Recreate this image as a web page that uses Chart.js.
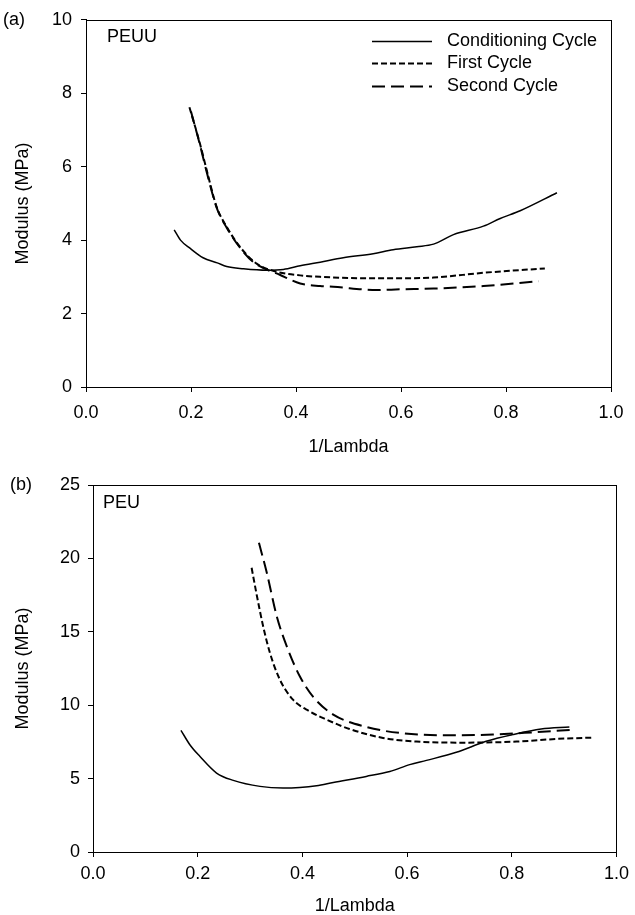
<!DOCTYPE html>
<html><head><meta charset="utf-8">
<script src="https://cdn.jsdelivr.net/npm/chart.js@4.4.1/dist/chart.umd.min.js"></script>
<style>
html,body{margin:0;padding:0;background:#fff;width:635px;height:915px;overflow:hidden}
canvas{position:absolute;left:0}
#c1{top:0}
#c2{top:462px}
</style></head><body>
<canvas id="c1" width="635" height="462"></canvas>
<canvas id="c2" width="635" height="453"></canvas>
<script>
// ---- data ----
const seriesNames = ["Conditioning Cycle", "First Cycle", "Second Cycle"];
const xTickValues = [0.0, 0.2, 0.4, 0.6, 0.8, 1.0];

// (a) PEUU
const condX_a = [0.168,0.180,0.198,0.223,0.250,0.268,0.300,0.344,0.376,0.408,0.446,0.490,0.547,0.585,0.630,0.662,0.700,0.757,0.789,0.827,0.897];
const condY_a = [4.28,4.00,3.78,3.52,3.38,3.28,3.22,3.18,3.20,3.30,3.40,3.52,3.63,3.74,3.82,3.89,4.15,4.38,4.59,4.80,5.29];
const firstX_a = [0.197,0.217,0.230,0.249,0.268,0.293,0.325,0.363,0.408,0.446,0.535,0.598,0.662,0.757,0.874];
const firstY_a = [7.62,6.63,5.90,4.90,4.36,3.82,3.36,3.14,3.04,3.00,2.96,2.96,2.98,3.11,3.23];
const secondX_a = [0.200,0.217,0.230,0.249,0.268,0.293,0.319,0.370,0.408,0.446,0.471,0.554,0.598,0.662,0.757,0.862];
const secondY_a = [7.50,6.60,5.85,4.88,4.34,3.80,3.40,3.05,2.82,2.75,2.73,2.64,2.66,2.68,2.75,2.88];
const yTicks_a = [0, 2, 4, 6, 8, 10];

// (b) PEU
const condX_b = [0.168,0.185,0.204,0.236,0.268,0.319,0.363,0.395,0.427,0.459,0.522,0.567,0.605,0.637,0.694,0.751,0.802,0.856,0.910];
const condY_b = [8.29,7.31,6.52,5.38,4.88,4.47,4.36,4.40,4.52,4.74,5.15,5.49,5.95,6.24,6.79,7.54,8.00,8.38,8.52];
const firstX_b = [0.303,0.312,0.325,0.338,0.357,0.382,0.414,0.446,0.490,0.554,0.618,0.713,0.809,0.885,0.952];
const firstY_b = [19.36,17.65,15.38,13.56,11.74,10.38,9.58,9.02,8.38,7.77,7.52,7.45,7.52,7.70,7.79];
const secondX_b = [0.317,0.332,0.351,0.370,0.395,0.421,0.459,0.522,0.586,0.681,0.764,0.840,0.920];
const secondY_b = [21.06,19.02,16.06,14.02,11.97,10.55,9.36,8.52,8.11,7.95,8.00,8.15,8.34];
const yTicks_b = [0, 5, 10, 15, 20, 25];

// ---- styling ----
const FONT = "'Liberation Sans', Arial, sans-serif";
Chart.defaults.color = '#000';
Chart.defaults.font.family = FONT;
Chart.defaults.font.size = 18;

const styles = [
  {borderDash: [], borderWidth: 1.5},
  {borderDash: [6, 3], borderWidth: 2},
  {borderDash: [13, 6], borderWidth: 2}
];

function pts(xs, ys) { return xs.map((x, i) => ({x: x, y: ys[i]})); }

function makeDatasets(sets) {
  return sets.map((s, i) => ({
    label: seriesNames[i],
    data: pts(s[0], s[1]),
    borderColor: '#000',
    backgroundColor: '#000',
    borderWidth: styles[i].borderWidth,
    borderDash: styles[i].borderDash,
    pointRadius: 0,
    fill: false,
    cubicInterpolationMode: 'monotone',
    showLine: true
  }));
}

const framePlugin = {
  id: 'frame',
  afterDraw(chart) {
    const {ctx, chartArea: a} = chart;
    ctx.save();
    ctx.strokeStyle = '#000';
    ctx.lineWidth = 1;
    ctx.strokeRect(Math.round(a.left) + 0.5, Math.round(a.top) + 0.5, Math.round(a.right - a.left), Math.round(a.bottom - a.top));
    ctx.restore();
  }
};

const labelsPlugin = {
  id: 'labels',
  afterDraw(chart, args, opts) {
    const {ctx} = chart;
    ctx.save();
    ctx.fillStyle = '#000';
    ctx.font = '18px ' + FONT;
    ctx.textBaseline = 'middle';
    ctx.textAlign = 'left';
    (opts.items || []).forEach(it => ctx.fillText(it.text, it.x, it.y));
    if (opts.legend) {
      const a = chart.chartArea;
      const x0 = a.right - 239, len = 60, tx = a.right - 164;
      chart.data.datasets.forEach((ds, i) => {
        const y = a.top + 21 + i * 22.5;
        ctx.beginPath();
        ctx.setLineDash(ds.borderDash);
        ctx.lineWidth = ds.borderWidth;
        ctx.strokeStyle = '#000';
        ctx.moveTo(x0, Math.round(y) + 0.5);
        ctx.lineTo(x0 + len, Math.round(y) + 0.5);
        ctx.stroke();
        ctx.setLineDash([]);
        ctx.fillText(ds.label, tx, y);
      });
    }
    ctx.restore();
  }
};

function axisCommon() {
  return {
    grid: {display: true, drawOnChartArea: false, drawTicks: true, tickLength: 5, tickColor: '#000', color: '#000', lineWidth: 1},
    border: {display: true, color: '#000', width: 1}
  };
}

function makeChart(id, sets, yTicks, cfg) {
  const yMax = yTicks[yTicks.length - 1];
  const yStep = yTicks[1] - yTicks[0];
  return new Chart(document.getElementById(id), {
    type: 'line',
    data: {datasets: makeDatasets(sets)},
    options: {
      responsive: false,
      animation: false,
      events: [],
      layout: {padding: {top: cfg.padTop, right: cfg.padRight, left: 0, bottom: 0}},
      plugins: {
        legend: {display: false},
        tooltip: {enabled: false},
        labels: {items: cfg.items, legend: cfg.legend}
      },
      scales: {
        x: Object.assign(axisCommon(), {
          type: 'linear', position: 'bottom',
          min: xTickValues[0], max: xTickValues[xTickValues.length - 1],
          afterBuildTicks: s => { s.ticks = xTickValues.map(v => ({value: v})); },
          ticks: {padding: cfg.xTickPad, maxRotation: 0, autoSkip: false, font: {size: 18}, callback: v => Number(v).toFixed(1)},
          title: {display: true, text: '1/Lambda', font: {size: 18, lineHeight: 1}, padding: {top: 0, bottom: cfg.xTitlePad}},
          afterFit: s => { s.height = cfg.xHeight; }
        }),
        y: Object.assign(axisCommon(), {
          type: 'linear', position: 'left',
          min: 0, max: yMax,
          afterBuildTicks: s => { s.ticks = yTicks.map(v => ({value: v})); },
          ticks: {padding: cfg.yTickPad, autoSkip: false, font: {size: 18}, stepSize: yStep},
          title: {display: true, text: 'Modulus (MPa)', font: {size: 18, lineHeight: 1}, padding: {top: 14, bottom: 0}},
          afterFit: s => { s.width = cfg.yWidth; }
        })
      }
    },
    plugins: [framePlugin, labelsPlugin]
  });
}

makeChart('c1', [[condX_a, condY_a], [firstX_a, firstY_a], [secondX_a, secondY_a]], yTicks_a, {
  padTop: 19, padRight: 24, yWidth: 86, xHeight: 75, xTickPad: 10, xTitlePad: 6, yTickPad: 9,
  legend: true,
  items: [{text: '(a)', x: 3, y: 20}, {text: 'PEUU', x: 107, y: 37}]
});

makeChart('c2', [[condX_b, condY_b], [firstX_b, firstY_b], [secondX_b, secondY_b]], yTicks_b, {
  padTop: 23, padRight: 18, yWidth: 93, xHeight: 63, xTickPad: 6, xTitlePad: 0, yTickPad: 8,
  legend: false,
  items: [{text: '(b)', x: 10, y: 23}, {text: 'PEU', x: 103, y: 41}]
});
</script>
</body></html>
